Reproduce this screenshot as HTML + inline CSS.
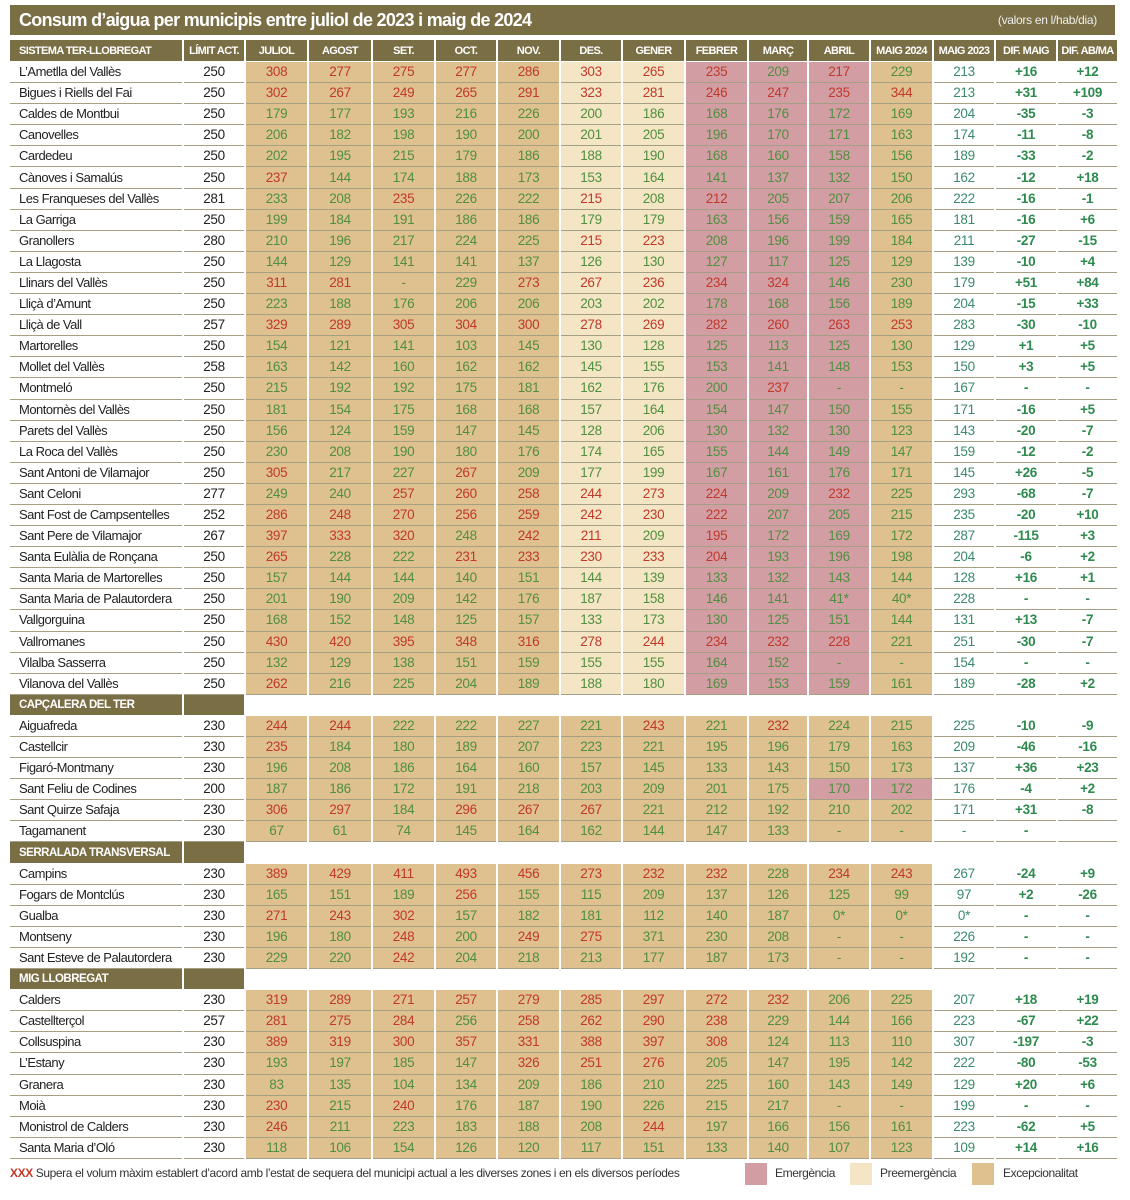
<!DOCTYPE html>
<html><head><meta charset="utf-8">
<style>
body{margin:0;width:1130px;height:1200px;background:#fff;position:relative;overflow:hidden;font-family:"Liberation Sans",sans-serif;}
.title{position:absolute;left:10px;top:5px;width:1105px;height:30px;background:#7a6e45;color:#fff;}
.title .t{position:absolute;left:9px;top:5px;font-size:18px;font-weight:bold;letter-spacing:-0.7px;}
.title .v{position:absolute;right:18px;top:8px;font-size:12px;color:#eee;letter-spacing:-0.3px;}
table{position:absolute;left:10px;top:40px;border-collapse:collapse;table-layout:fixed;width:1108px;}
td,th{height:20.1px;padding:0;text-align:center;font-size:13.5px;border-bottom:1px solid #a59f85;border-right:2px solid #fff;color:#4f8f3f;white-space:nowrap;overflow:hidden;line-height:20px;letter-spacing:-0.3px;}
th{background:#7a6e45;color:#fff;font-size:11px;font-weight:bold;height:21px;border-bottom:1px solid #fff;letter-spacing:-0.6px;}
th:first-child{text-align:left;padding-left:9px;}
td:first-child{text-align:left;padding-left:9px;color:#222;font-size:13px;letter-spacing:-0.5px;}
td:nth-child(2){color:#222;}
td:nth-child(14){color:#3b8a6b;}
td:nth-child(15),td:nth-child(16){color:#2e8a4e;font-weight:bold;}
tbody td:nth-child(n+3):nth-child(-n+13){background:#dfc08f;}
tbody.s1 td:nth-child(8),tbody.s1 td:nth-child(9){background:#f4e6c4;}
tbody.s1 td:nth-child(n+10):nth-child(-n+12){background:#d39ea3;}
tbody td.p{background:#d39ea3 !important;}
td.r{color:#c0392b !important;}
tr.sec td{background:#fff !important;border-bottom:1px solid #fff;}
tr.sec td:first-child,tr.sec td:nth-child(2){background:#7a6e45 !important;color:#fff;font-weight:bold;font-size:11.5px;letter-spacing:-0.5px;}
.leg{position:absolute;top:1166px;font-size:12px;color:#333;letter-spacing:-0.4px;white-space:nowrap;}
.sw{position:absolute;top:1163px;width:22px;height:22px;}
</style></head><body>
<div class="title"><span class="t">Consum d’aigua per municipis entre juliol de 2023 i maig de 2024</span><span class="v">(valors en l/hab/dia)</span></div>
<table>
<colgroup><col style="width:173px"><col style="width:62px"><col style="width:63px"><col style="width:64px"><col style="width:63px"><col style="width:62px"><col style="width:63px"><col style="width:62px"><col style="width:63px"><col style="width:63px"><col style="width:60px"><col style="width:62px"><col style="width:63px"><col style="width:62px"><col style="width:62px"><col style="width:61px"></colgroup>
<thead><tr><th>SISTEMA TER-LLOBREGAT</th><th>LÍMIT ACT.</th><th>JULIOL</th><th>AGOST</th><th>SET.</th><th>OCT.</th><th>NOV.</th><th>DES.</th><th>GENER</th><th>FEBRER</th><th>MARÇ</th><th>ABRIL</th><th>MAIG 2024</th><th>MAIG 2023</th><th>DIF. MAIG</th><th>DIF. AB/MA</th></tr></thead>
<tbody class="s1">
<tr><td>L’Ametlla del Vallès</td><td>250</td><td class="r">308</td><td class="r">277</td><td class="r">275</td><td class="r">277</td><td class="r">286</td><td class="r">303</td><td class="r">265</td><td class="r">235</td><td>209</td><td class="r">217</td><td>229</td><td>213</td><td>+16</td><td>+12</td></tr>
<tr><td>Bigues i Riells del Fai</td><td>250</td><td class="r">302</td><td class="r">267</td><td class="r">249</td><td class="r">265</td><td class="r">291</td><td class="r">323</td><td class="r">281</td><td class="r">246</td><td class="r">247</td><td class="r">235</td><td class="r">344</td><td>213</td><td>+31</td><td>+109</td></tr>
<tr><td>Caldes de Montbui</td><td>250</td><td>179</td><td>177</td><td>193</td><td>216</td><td>226</td><td>200</td><td>186</td><td>168</td><td>176</td><td>172</td><td>169</td><td>204</td><td>-35</td><td>-3</td></tr>
<tr><td>Canovelles</td><td>250</td><td>206</td><td>182</td><td>198</td><td>190</td><td>200</td><td>201</td><td>205</td><td>196</td><td>170</td><td>171</td><td>163</td><td>174</td><td>-11</td><td>-8</td></tr>
<tr><td>Cardedeu</td><td>250</td><td>202</td><td>195</td><td>215</td><td>179</td><td>186</td><td>188</td><td>190</td><td>168</td><td>160</td><td>158</td><td>156</td><td>189</td><td>-33</td><td>-2</td></tr>
<tr><td>Cànoves i Samalús</td><td>250</td><td class="r">237</td><td>144</td><td>174</td><td>188</td><td>173</td><td>153</td><td>164</td><td>141</td><td>137</td><td>132</td><td>150</td><td>162</td><td>-12</td><td>+18</td></tr>
<tr><td>Les Franqueses del Vallès</td><td>281</td><td>233</td><td>208</td><td class="r">235</td><td>226</td><td>222</td><td class="r">215</td><td>208</td><td class="r">212</td><td>205</td><td>207</td><td>206</td><td>222</td><td>-16</td><td>-1</td></tr>
<tr><td>La Garriga</td><td>250</td><td>199</td><td>184</td><td>191</td><td>186</td><td>186</td><td>179</td><td>179</td><td>163</td><td>156</td><td>159</td><td>165</td><td>181</td><td>-16</td><td>+6</td></tr>
<tr><td>Granollers</td><td>280</td><td>210</td><td>196</td><td>217</td><td>224</td><td>225</td><td class="r">215</td><td class="r">223</td><td>208</td><td>196</td><td>199</td><td>184</td><td>211</td><td>-27</td><td>-15</td></tr>
<tr><td>La Llagosta</td><td>250</td><td>144</td><td>129</td><td>141</td><td>141</td><td>137</td><td>126</td><td>130</td><td>127</td><td>117</td><td>125</td><td>129</td><td>139</td><td>-10</td><td>+4</td></tr>
<tr><td>Llinars del Vallès</td><td>250</td><td class="r">311</td><td class="r">281</td><td>-</td><td>229</td><td class="r">273</td><td class="r">267</td><td class="r">236</td><td class="r">234</td><td class="r">324</td><td>146</td><td>230</td><td>179</td><td>+51</td><td>+84</td></tr>
<tr><td>Lliçà d’Amunt</td><td>250</td><td>223</td><td>188</td><td>176</td><td>206</td><td>206</td><td>203</td><td>202</td><td>178</td><td>168</td><td>156</td><td>189</td><td>204</td><td>-15</td><td>+33</td></tr>
<tr><td>Lliçà de Vall</td><td>257</td><td class="r">329</td><td class="r">289</td><td class="r">305</td><td class="r">304</td><td class="r">300</td><td class="r">278</td><td class="r">269</td><td class="r">282</td><td class="r">260</td><td class="r">263</td><td class="r">253</td><td>283</td><td>-30</td><td>-10</td></tr>
<tr><td>Martorelles</td><td>250</td><td>154</td><td>121</td><td>141</td><td>103</td><td>145</td><td>130</td><td>128</td><td>125</td><td>113</td><td>125</td><td>130</td><td>129</td><td>+1</td><td>+5</td></tr>
<tr><td>Mollet del Vallès</td><td>258</td><td>163</td><td>142</td><td>160</td><td>162</td><td>162</td><td>145</td><td>155</td><td>153</td><td>141</td><td>148</td><td>153</td><td>150</td><td>+3</td><td>+5</td></tr>
<tr><td>Montmeló</td><td>250</td><td>215</td><td>192</td><td>192</td><td>175</td><td>181</td><td>162</td><td>176</td><td>200</td><td class="r">237</td><td>-</td><td>-</td><td>167</td><td>-</td><td>-</td></tr>
<tr><td>Montornès del Vallès</td><td>250</td><td>181</td><td>154</td><td>175</td><td>168</td><td>168</td><td>157</td><td>164</td><td>154</td><td>147</td><td>150</td><td>155</td><td>171</td><td>-16</td><td>+5</td></tr>
<tr><td>Parets del Vallès</td><td>250</td><td>156</td><td>124</td><td>159</td><td>147</td><td>145</td><td>128</td><td>206</td><td>130</td><td>132</td><td>130</td><td>123</td><td>143</td><td>-20</td><td>-7</td></tr>
<tr><td>La Roca del Vallès</td><td>250</td><td>230</td><td>208</td><td>190</td><td>180</td><td>176</td><td>174</td><td>165</td><td>155</td><td>144</td><td>149</td><td>147</td><td>159</td><td>-12</td><td>-2</td></tr>
<tr><td>Sant Antoni de Vilamajor</td><td>250</td><td class="r">305</td><td>217</td><td>227</td><td class="r">267</td><td>209</td><td>177</td><td>199</td><td>167</td><td>161</td><td>176</td><td>171</td><td>145</td><td>+26</td><td>-5</td></tr>
<tr><td>Sant Celoni</td><td>277</td><td>249</td><td>240</td><td class="r">257</td><td class="r">260</td><td class="r">258</td><td class="r">244</td><td class="r">273</td><td class="r">224</td><td>209</td><td class="r">232</td><td>225</td><td>293</td><td>-68</td><td>-7</td></tr>
<tr><td>Sant Fost de Campsentelles</td><td>252</td><td class="r">286</td><td class="r">248</td><td class="r">270</td><td class="r">256</td><td class="r">259</td><td class="r">242</td><td class="r">230</td><td class="r">222</td><td>207</td><td>205</td><td>215</td><td>235</td><td>-20</td><td>+10</td></tr>
<tr><td>Sant Pere de Vilamajor</td><td>267</td><td class="r">397</td><td class="r">333</td><td class="r">320</td><td>248</td><td class="r">242</td><td class="r">211</td><td>209</td><td class="r">195</td><td>172</td><td>169</td><td>172</td><td>287</td><td>-115</td><td>+3</td></tr>
<tr><td>Santa Eulàlia de Ronçana</td><td>250</td><td class="r">265</td><td>228</td><td>222</td><td class="r">231</td><td class="r">233</td><td class="r">230</td><td class="r">233</td><td class="r">204</td><td>193</td><td>196</td><td>198</td><td>204</td><td>-6</td><td>+2</td></tr>
<tr><td>Santa Maria de Martorelles</td><td>250</td><td>157</td><td>144</td><td>144</td><td>140</td><td>151</td><td>144</td><td>139</td><td>133</td><td>132</td><td>143</td><td>144</td><td>128</td><td>+16</td><td>+1</td></tr>
<tr><td>Santa Maria de Palautordera</td><td>250</td><td>201</td><td>190</td><td>209</td><td>142</td><td>176</td><td>187</td><td>158</td><td>146</td><td>141</td><td>41*</td><td>40*</td><td>228</td><td>-</td><td>-</td></tr>
<tr><td>Vallgorguina</td><td>250</td><td>168</td><td>152</td><td>148</td><td>125</td><td>157</td><td>133</td><td>173</td><td>130</td><td>125</td><td>151</td><td>144</td><td>131</td><td>+13</td><td>-7</td></tr>
<tr><td>Vallromanes</td><td>250</td><td class="r">430</td><td class="r">420</td><td class="r">395</td><td class="r">348</td><td class="r">316</td><td class="r">278</td><td class="r">244</td><td class="r">234</td><td class="r">232</td><td class="r">228</td><td>221</td><td>251</td><td>-30</td><td>-7</td></tr>
<tr><td>Vilalba Sasserra</td><td>250</td><td>132</td><td>129</td><td>138</td><td>151</td><td>159</td><td>155</td><td>155</td><td>164</td><td>152</td><td>-</td><td>-</td><td>154</td><td>-</td><td>-</td></tr>
<tr><td>Vilanova del Vallès</td><td>250</td><td class="r">262</td><td>216</td><td>225</td><td>204</td><td>189</td><td>188</td><td>180</td><td>169</td><td>153</td><td>159</td><td>161</td><td>189</td><td>-28</td><td>+2</td></tr>
</tbody>
<tbody>
<tr class="sec"><td>CAPÇALERA DEL TER</td><td></td><td></td><td></td><td></td><td></td><td></td><td></td><td></td><td></td><td></td><td></td><td></td><td></td><td></td><td></td></tr>
<tr><td>Aiguafreda</td><td>230</td><td class="r">244</td><td class="r">244</td><td>222</td><td>222</td><td>227</td><td>221</td><td class="r">243</td><td>221</td><td class="r">232</td><td>224</td><td>215</td><td>225</td><td>-10</td><td>-9</td></tr>
<tr><td>Castellcir</td><td>230</td><td class="r">235</td><td>184</td><td>180</td><td>189</td><td>207</td><td>223</td><td>221</td><td>195</td><td>196</td><td>179</td><td>163</td><td>209</td><td>-46</td><td>-16</td></tr>
<tr><td>Figaró-Montmany</td><td>230</td><td>196</td><td>208</td><td>186</td><td>164</td><td>160</td><td>157</td><td>145</td><td>133</td><td>143</td><td>150</td><td>173</td><td>137</td><td>+36</td><td>+23</td></tr>
<tr><td>Sant Feliu de Codines</td><td>200</td><td>187</td><td>186</td><td>172</td><td>191</td><td>218</td><td>203</td><td>209</td><td>201</td><td>175</td><td class="p">170</td><td class="p">172</td><td>176</td><td>-4</td><td>+2</td></tr>
<tr><td>Sant Quirze Safaja</td><td>230</td><td class="r">306</td><td class="r">297</td><td>184</td><td class="r">296</td><td class="r">267</td><td class="r">267</td><td>221</td><td>212</td><td>192</td><td>210</td><td>202</td><td>171</td><td>+31</td><td>-8</td></tr>
<tr><td>Tagamanent</td><td>230</td><td>67</td><td>61</td><td>74</td><td>145</td><td>164</td><td>162</td><td>144</td><td>147</td><td>133</td><td>-</td><td>-</td><td>-</td><td>-</td><td></td></tr>
<tr class="sec"><td>SERRALADA TRANSVERSAL</td><td></td><td></td><td></td><td></td><td></td><td></td><td></td><td></td><td></td><td></td><td></td><td></td><td></td><td></td><td></td></tr>
<tr><td>Campins</td><td>230</td><td class="r">389</td><td class="r">429</td><td class="r">411</td><td class="r">493</td><td class="r">456</td><td class="r">273</td><td class="r">232</td><td class="r">232</td><td>228</td><td class="r">234</td><td class="r">243</td><td>267</td><td>-24</td><td>+9</td></tr>
<tr><td>Fogars de Montclús</td><td>230</td><td>165</td><td>151</td><td>189</td><td class="r">256</td><td>155</td><td>115</td><td>209</td><td>137</td><td>126</td><td>125</td><td>99</td><td>97</td><td>+2</td><td>-26</td></tr>
<tr><td>Gualba</td><td>230</td><td class="r">271</td><td class="r">243</td><td class="r">302</td><td>157</td><td>182</td><td>181</td><td>112</td><td>140</td><td>187</td><td>0*</td><td>0*</td><td>0*</td><td>-</td><td>-</td></tr>
<tr><td>Montseny</td><td>230</td><td>196</td><td>180</td><td class="r">248</td><td>200</td><td class="r">249</td><td class="r">275</td><td>371</td><td>230</td><td>208</td><td>-</td><td>-</td><td>226</td><td>-</td><td>-</td></tr>
<tr><td>Sant Esteve de Palautordera</td><td>230</td><td>229</td><td>220</td><td class="r">242</td><td>204</td><td>218</td><td>213</td><td>177</td><td>187</td><td>173</td><td>-</td><td>-</td><td>192</td><td>-</td><td>-</td></tr>
<tr class="sec"><td>MIG LLOBREGAT</td><td></td><td></td><td></td><td></td><td></td><td></td><td></td><td></td><td></td><td></td><td></td><td></td><td></td><td></td><td></td></tr>
<tr><td>Calders</td><td>230</td><td class="r">319</td><td class="r">289</td><td class="r">271</td><td class="r">257</td><td class="r">279</td><td class="r">285</td><td class="r">297</td><td class="r">272</td><td class="r">232</td><td>206</td><td>225</td><td>207</td><td>+18</td><td>+19</td></tr>
<tr><td>Castellterçol</td><td>257</td><td class="r">281</td><td class="r">275</td><td class="r">284</td><td>256</td><td class="r">258</td><td class="r">262</td><td class="r">290</td><td class="r">238</td><td>229</td><td>144</td><td>166</td><td>223</td><td>-67</td><td>+22</td></tr>
<tr><td>Collsuspina</td><td>230</td><td class="r">389</td><td class="r">319</td><td class="r">300</td><td class="r">357</td><td class="r">331</td><td class="r">388</td><td class="r">397</td><td class="r">308</td><td>124</td><td>113</td><td>110</td><td>307</td><td>-197</td><td>-3</td></tr>
<tr><td>L’Estany</td><td>230</td><td>193</td><td>197</td><td>185</td><td>147</td><td class="r">326</td><td class="r">251</td><td class="r">276</td><td>205</td><td>147</td><td>195</td><td>142</td><td>222</td><td>-80</td><td>-53</td></tr>
<tr><td>Granera</td><td>230</td><td>83</td><td>135</td><td>104</td><td>134</td><td>209</td><td>186</td><td>210</td><td>225</td><td>160</td><td>143</td><td>149</td><td>129</td><td>+20</td><td>+6</td></tr>
<tr><td>Moià</td><td>230</td><td class="r">230</td><td>215</td><td class="r">240</td><td>176</td><td>187</td><td>190</td><td>226</td><td>215</td><td>217</td><td>-</td><td>-</td><td>199</td><td>-</td><td>-</td></tr>
<tr><td>Monistrol de Calders</td><td>230</td><td class="r">246</td><td>211</td><td>223</td><td>183</td><td>188</td><td>208</td><td class="r">244</td><td>197</td><td>166</td><td>156</td><td>161</td><td>223</td><td>-62</td><td>+5</td></tr>
<tr><td>Santa Maria d’Oló</td><td>230</td><td>118</td><td>106</td><td>154</td><td>126</td><td>120</td><td>117</td><td>151</td><td>133</td><td>140</td><td>107</td><td>123</td><td>109</td><td>+14</td><td>+16</td></tr>
</tbody>
</table>
<div class="leg" style="left:10px;"><b style="color:#c0392b">XXX</b>&nbsp;Supera el volum màxim establert d’acord amb l’estat de sequera del municipi actual a les diverses zones i en els diversos períodes</div>
<div class="sw" style="left:745px;background:#d39ea3"></div><div class="leg" style="left:775px">Emergència</div>
<div class="sw" style="left:850px;background:#f4e6c4"></div><div class="leg" style="left:880px">Preemergència</div>
<div class="sw" style="left:972px;background:#dfc08f"></div><div class="leg" style="left:1003px">Excepcionalitat</div>
</body></html>
